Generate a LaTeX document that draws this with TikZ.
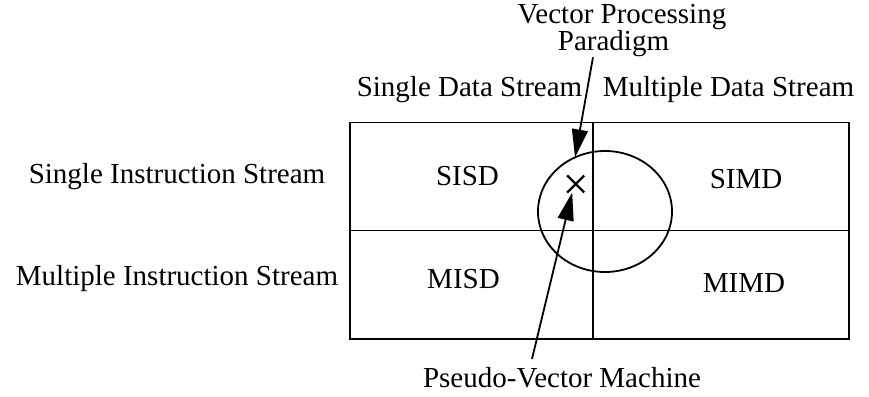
\documentclass[tikz,border=0pt]{standalone}
\usepackage{fontspec}
\setmainfont{Liberation Serif}
\usetikzlibrary{arrows.meta,shapes.geometric,shapes.misc}

\tikzset{
  lbl/.style={inner sep=0pt, outer sep=0pt, anchor=base,
              font=\fontsize{29}{31}\selectfont},
  rule/.style={line width=1.8pt},
  pointer/.style={line width=1.8pt, -{Triangle[length=28pt,width=16pt]}},
}

\begin{document}
\begin{tikzpicture}[x=1pt,y=-1pt]
  \useasboundingbox (0,0) rectangle (869,396);

  % classification grid
  \draw[rule] (350,122.5) rectangle (849,339);
  \draw[rule] (593,122.5) -- (593,339);
  \draw[rule] (350,230.5) -- (849,230.5);

  % column and row headings
  \node[lbl] (sds) at (469.5,96) {Single Data Stream};
  \node[lbl] (mds) at (728.5,96) {Multiple Data Stream};
  \node[lbl] (sis) at (177,183) {Single Instruction Stream};
  \node[lbl] (mis) at (177,285) {Multiple Instruction Stream};

  % cell labels
  \node[lbl] (sisd) at (467.5,185) {SISD};
  \node[lbl] (simd) at (746,188) {SIMD};
  \node[lbl] (misd) at (463.5,288) {MISD};
  \node[lbl] (mimd) at (744,292) {MIMD};

  % vector processing region and the pseudo-vector point
  \node[draw, rule, ellipse, minimum width=134pt, minimum height=121pt,
        inner sep=0pt, outer sep=0pt] (ring) at (605,211.5) {};
  \node[draw, line width=2.4pt, cross out, minimum size=17pt, inner sep=0pt,
        outer sep=0pt] (pt) at (575.7,184) {};

  % callouts (the two-line label sits on the baseline of its last line)
  \node[lbl, align=center, font=\fontsize{29}{21}\selectfont] (vp) at (622,51)
    {Vector Processing\\\hspace*{-17pt}Paradigm};
  \node[lbl] (pvm) at (562,387) {Pseudo-Vector Machine};

  \draw[pointer] ([xshift=-29pt]vp.south) -- (ring.119);
  \draw[pointer] ([xshift=-30pt,yshift=8pt]pvm.north) -- ([xshift=-3.5pt]pt.south);
\end{tikzpicture}
\end{document}
